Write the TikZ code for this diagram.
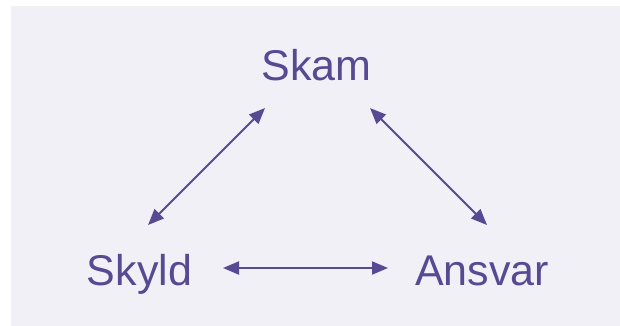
\documentclass[tikz,border=0pt]{standalone}
\usepackage{fontspec}
\setmainfont{Liberation Sans}
\usetikzlibrary{arrows.meta}
\definecolor{bgc}{HTML}{F1F0F7}
\definecolor{pur}{HTML}{574A92}
\begin{document}
\begin{tikzpicture}[x=1pt,y=-1pt,
  lbl/.style={text=pur,font=\fontsize{43}{50}\selectfont,inner sep=0pt,anchor=base},
  link/.style={draw=pur,line width=2pt,{Triangle[length=16pt,width=13pt]}-{Triangle[length=16pt,width=13pt]}}]
\useasboundingbox (0,0) rectangle (620,325);
\fill[bgc] (11,6) rectangle (624,329);
\node[lbl] (skam) at (316.5,80) {Skam};
\node[lbl] (skyld) at (139.5,285) {Skyld};
\node[lbl] (ansvar) at (482,285) {Ansvar};
\coordinate (t1) at (265,108);
\coordinate (t2) at (148,225);
\coordinate (t3) at (370,108);
\coordinate (t4) at (487,225);
\coordinate (h1) at (223,268);
\coordinate (h2) at (388,268);
\draw[link] (t2) -- (t1);
\draw[link] (t3) -- (t4);
\draw[link] (h1) -- (h2);
\end{tikzpicture}
\end{document}
